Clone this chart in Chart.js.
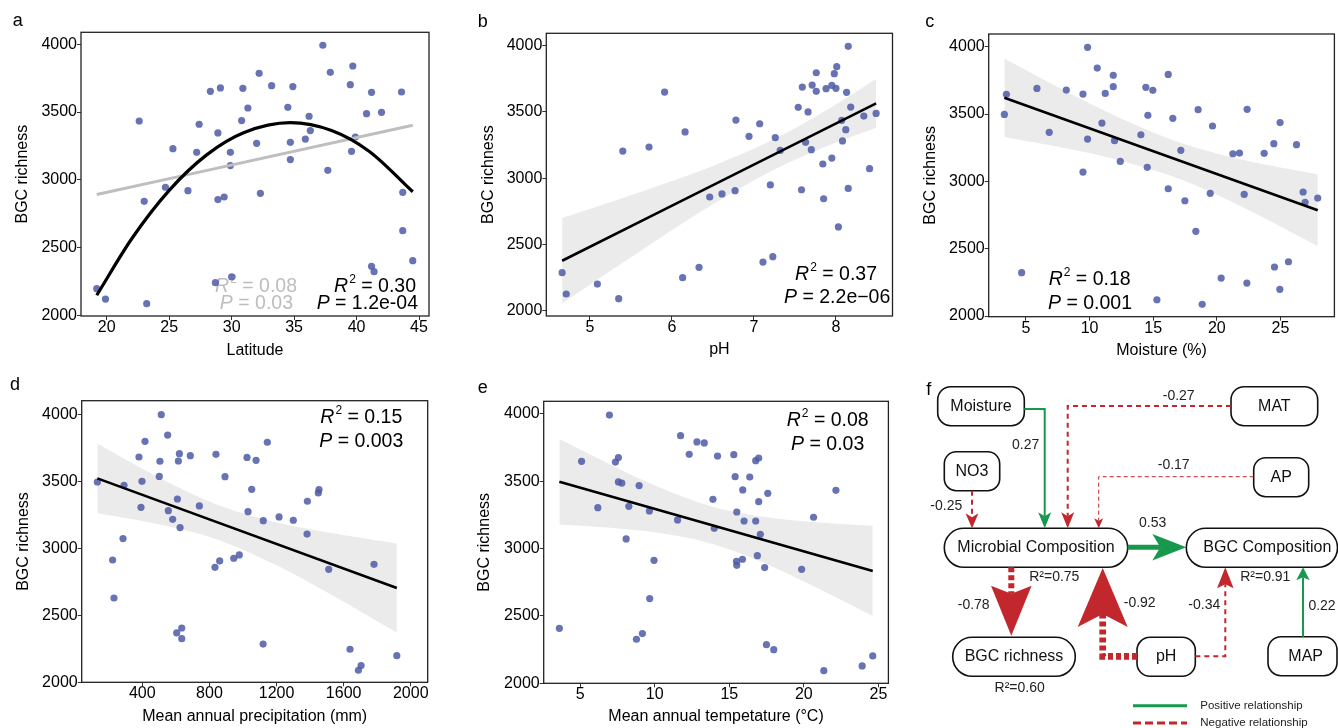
<!DOCTYPE html>
<html>
<head>
<meta charset="utf-8">
<script src="https://cdn.jsdelivr.net/npm/chart.js"></script>
<style>
  html, body { margin: 0; padding: 0; background: #fff; }
  body { width: 1338px; height: 728px; position: relative; overflow: hidden; }
  canvas { position: absolute; }
</style>
</head>
<body>
<canvas id="chartA"></canvas>
<canvas id="chartB"></canvas>
<canvas id="chartC"></canvas>
<canvas id="chartD"></canvas>
<canvas id="chartE"></canvas>
<canvas id="chartF"></canvas>
<script>
// ---------- data ----------
const richTicks = [2000, 2500, 3000, 3500, 4000];

// a: latitude
const latTicks = [20, 25, 30, 35, 40, 45];
const latitude = [19.2, 19.9, 22.6, 23.0, 23.2, 24.7, 25.3, 26.5, 27.2, 27.4, 28.3, 28.7, 28.9, 28.9, 29.1, 29.4, 29.9, 29.9, 30.0, 30.8, 30.9, 31.3, 32.0, 32.2, 32.3, 33.2, 34.5, 34.7, 34.7, 34.9, 35.9, 36.2, 36.3, 37.3, 37.7, 37.9, 39.5, 39.6, 39.7, 39.9, 40.8, 41.2, 41.2, 41.4, 42.0, 43.6, 43.7, 43.7, 44.5];
const richLat = [2197, 2120, 3434, 2841, 2086, 2945, 3230, 2920, 3203, 3410, 3653, 2241, 2854, 3346, 3678, 2873, 3203, 3105, 2283, 3437, 3675, 3530, 3269, 3786, 2900, 3695, 3535, 3277, 3149, 3688, 3301, 3469, 3363, 3993, 3070, 3793, 3702, 3210, 3840, 3316, 3488, 3646, 2362, 2322, 3498, 3648, 2625, 2908, 2403];
const latLinX = [19.2, 44.5];
const latLinY = [2891, 3402];
const latQuadX = [19.2, 22, 25, 28, 31, 34.7, 38, 41, 44.5];
const latQuadY = [2148, 2565, 2922, 3184, 3349, 3422, 3364, 3211, 2912];
const latR2 = ['0.08', '0.30'];
const latP = ['0.03', '1.2e-04'];

// b: pH
const phTicks = [5, 6, 7, 8];
const ph = [4.66, 4.71, 5.09, 5.35, 5.40, 5.72, 5.91, 6.13, 6.16, 6.33, 6.46, 6.61, 6.77, 6.78, 6.94, 7.07, 7.11, 7.20, 7.23, 7.26, 7.32, 7.54, 7.58, 7.59, 7.63, 7.66, 7.70, 7.71, 7.76, 7.76, 7.84, 7.85, 7.88, 7.95, 7.95, 7.98, 8.00, 8.01, 8.03, 8.07, 8.08, 8.12, 8.13, 8.15, 8.15, 8.18, 8.34, 8.41, 8.49];
const richPh = [2287, 2126, 2201, 2091, 3205, 3235, 3650, 2249, 3349, 2327, 2858, 2881, 2906, 3439, 3316, 3411, 2367, 2949, 2408, 3306, 3210, 3535, 2913, 3688, 3271, 3500, 3215, 3703, 3796, 3656, 3107, 2845, 3676, 3152, 3701, 3789, 3678, 3842, 2632, 3437, 3281, 3366, 3648, 3995, 2923, 3537, 3469, 3072, 3489];
const phFitX = [4.66, 8.49];
const phFitY = [2377, 3565];
const phBandX = [4.66, 5.2, 5.8, 6.5, 7.25, 7.9, 8.49];
const phBandUp = [2700, 2810, 2936, 3093, 3295, 3519, 3749];
const phBandLo = [2054, 2280, 2526, 2803, 3065, 3245, 3381];

// c: moisture
const moistTicks = [5, 10, 15, 20, 25];
const moisture = [3.30, 3.46, 4.66, 5.86, 6.83, 8.17, 9.48, 9.48, 9.84, 9.84, 10.60, 10.97, 11.23, 11.86, 11.86, 11.96, 12.41, 14.03, 14.42, 14.53, 14.58, 14.97, 15.29, 16.18, 16.18, 16.54, 17.17, 17.49, 18.35, 18.53, 18.85, 19.48, 19.66, 20.34, 21.26, 21.78, 22.15, 22.36, 22.38, 23.72, 24.48, 24.53, 24.95, 24.97, 25.63, 26.26, 26.78, 26.94, 27.93];
const richMoist = [3497, 3646, 2322, 3690, 3364, 3678, 3648, 3069, 3995, 3314, 3841, 3433, 3653, 3787, 3703, 3302, 3148, 3346, 3698, 3104, 3490, 3676, 2121, 3794, 2945, 3468, 3230, 2856, 2629, 3532, 2087, 2911, 3411, 2282, 3205, 3210, 2903, 2245, 3535, 3208, 3280, 2364, 2198, 3436, 2403, 3272, 2921, 2844, 2876];
const moistFitX = [3.3, 27.93];
const moistFitY = [3621, 2785];
const moistBandX = [3.3, 7, 11, 16.34, 20, 24, 27.93];
const moistBandUp = [3913, 3724, 3532, 3313, 3207, 3121, 3052];
const moistBandLo = [3329, 3266, 3188, 3043, 2901, 2715, 2518];

// d: mean annual precipitation
const precipTicks = [400, 800, 1200, 1600, 2000];
const precip = [132, 223, 231, 285, 291, 380, 392, 398, 416, 501, 505, 513, 551, 555, 581, 605, 609, 615, 621, 625, 635, 635, 686, 740, 833, 839, 861, 893, 945, 978, 1024, 1030, 1052, 1078, 1120, 1121, 1145, 1215, 1300, 1382, 1384, 1449, 1453, 1511, 1638, 1688, 1704, 1781, 1917];
const richPrecip = [3497, 2914, 2630, 3074, 3472, 3684, 3308, 3502, 3801, 3539, 3652, 4000, 3848, 3283, 3218, 2369, 3370, 3654, 3709, 3156, 2406, 2326, 3694, 3318, 2859, 3704, 2907, 3537, 2927, 2952, 3681, 3275, 3442, 3659, 2286, 3208, 3794, 3236, 3211, 3108, 3353, 3415, 3440, 2844, 2247, 2090, 2125, 2882, 2199];
const precipFitX = [132, 1917];
const precipFitY = [3524, 2705];
const precipBandX = [132, 400, 700, 900, 1200, 1500, 1917];
const precipBandUp = [3784, 3596, 3405, 3302, 3194, 3121, 3038];
const precipBandLo = [3264, 3206, 3123, 3042, 2874, 2673, 2372];

// e: mean annual temperature
const tempTicks = [5, 10, 15, 20, 25];
const temp = [3.60, 5.09, 6.18, 6.96, 7.36, 7.56, 7.56, 7.79, 8.08, 8.26, 8.77, 8.95, 9.17, 9.64, 9.66, 9.95, 11.53, 11.73, 12.31, 12.83, 13.32, 13.90, 13.99, 14.21, 15.30, 15.39, 15.48, 15.50, 15.50, 15.88, 15.90, 15.99, 16.37, 16.77, 16.77, 16.88, 16.97, 16.97, 17.08, 17.37, 17.49, 17.58, 17.98, 19.85, 20.65, 21.34, 22.15, 23.91, 24.62];
const richTemp = [2408, 3648, 3304, 3992, 3643, 3676, 3495, 3487, 3072, 3314, 2327, 3468, 2369, 3280, 2629, 2913, 3213, 3839, 3700, 3792, 3785, 3366, 3151, 3688, 3698, 3534, 2906, 3272, 2876, 2921, 3436, 3205, 3532, 3653, 3205, 2948, 3673, 3349, 3106, 2859, 2287, 3411, 2250, 2846, 3233, 2094, 3433, 2129, 2203];
const tempFitX = [3.6, 24.62];
const tempFitY = [3497, 2834];
const tempBandX = [3.6, 7, 10, 13.76, 17, 21, 24.62];
const tempBandUp = [3814, 3625, 3469, 3315, 3240, 3194, 3169];
const tempBandLo = [3180, 3155, 3121, 3039, 2910, 2702, 2499];

// f: structural equation model
const semFrom = ['Moisture', 'MAT', 'NO3', 'AP', 'Microbial Composition', 'Microbial Composition', 'pH', 'pH', 'MAP'];
const semTo = ['Microbial Composition', 'Microbial Composition', 'Microbial Composition', 'Microbial Composition', 'BGC Composition', 'BGC richness', 'Microbial Composition', 'BGC Composition', 'BGC Composition'];
const semCoef = [0.27, -0.27, -0.25, -0.17, 0.53, -0.78, -0.92, -0.34, 0.22];
const semR2Node = ['Microbial Composition', 'BGC Composition', 'BGC richness'];
const semR2 = ['0.75', '0.91', '0.60'];
const semLegend = ['Positive relationship', 'Negative relationship'];

// ---------- drawing ----------
const FONT = '"Liberation Sans", Arial, Helvetica, sans-serif';
const DOT = 'rgba(77, 90, 167, 0.85)';
const BAND = '#ebebeb';
const GREEN = '#17984c';
const RED = '#c1272d';
const STAT_PX = 19.5;

Chart.defaults.font.family = FONT;
Chart.defaults.color = '#000';

function xy(xs, ys) {
    return xs.map((x, i) => ({ x: x, y: ys[i] }));
}

const frame = {
    id: 'frame',
    afterDatasetsDraw(chart) {
        const a = chart.chartArea;
        const ctx = chart.ctx;
        ctx.save();
        ctx.strokeStyle = '#222';
        ctx.lineWidth = 1.3;
        ctx.strokeRect(a.left, a.top, a.right - a.left, a.bottom - a.top);
        ctx.restore();
    }
};

function drawStat(ctx, s) {
    ctx.save();
    ctx.fillStyle = s.color || '#000';
    ctx.textBaseline = 'alphabetic';
    ctx.textAlign = 'left';
    const big = STAT_PX + 'px ' + FONT;
    const small = '12px ' + FONT;
    const rest = ' = ' + s.val;
    ctx.font = 'italic ' + big;
    const w1 = ctx.measureText(s.sym).width;
    ctx.font = small;
    const w2 = s.sup ? ctx.measureText(s.sup).width + 1 : 0;
    ctx.font = big;
    const w3 = ctx.measureText(rest).width;
    let x = s.align === 'right' ? s.x - (w1 + w2 + w3) : s.x;
    ctx.font = 'italic ' + big;
    ctx.fillText(s.sym, x, s.y);
    x += w1;
    if (s.sup) {
        ctx.font = small;
        ctx.fillText(s.sup, x + 1, s.y - 9);
        x += w2;
    }
    ctx.font = big;
    ctx.fillText(rest, x, s.y);
    ctx.restore();
}

function makeNotes(letter, pos, stats) {
    return {
        id: 'notes',
        beforeDatasetsDraw(chart) {
            stats.forEach(s => drawStat(chart.ctx, s));
        },
        afterDraw(chart) {
            const ctx = chart.ctx;
            ctx.save();
            ctx.font = '18px ' + FONT;
            ctx.fillStyle = '#000';
            ctx.textBaseline = 'alphabetic';
            ctx.textAlign = 'left';
            ctx.fillText(letter, pos[0], pos[1]);
            ctx.restore();
        }
    };
}

function axis(ticks, min, max, title, fitSize, titlePad, horizontal) {
    return {
        type: 'linear',
        position: horizontal ? 'bottom' : 'left',
        min: min,
        max: max,
        afterBuildTicks: s => { s.ticks = ticks.map(v => ({ value: v })); },
        afterFit: s => { if (horizontal) s.height = fitSize; else s.width = fitSize; },
        grid: { drawOnChartArea: false, tickLength: 4, color: '#333', lineWidth: 1 },
        border: { display: false },
        ticks: {
            font: { size: 16 }, color: '#000', padding: horizontal ? -2 : 0,
            maxRotation: 0, autoSkip: false, callback: v => String(v)
        },
        title: {
            display: true, text: title, font: { size: 16 }, color: '#000',
            padding: horizontal ? { top: 0, bottom: titlePad } : { top: titlePad, bottom: 0 }
        }
    };
}

function scatterPanel(p) {
    const cv = document.getElementById(p.id);
    cv.width = p.w;
    cv.height = p.h;
    cv.style.left = p.left + 'px';
    cv.style.top = p.top + 'px';

    const ds = [];
    if (p.band) {
        ds.push({ type: 'line', data: xy(p.band[0], p.band[1]), fill: '+1', backgroundColor: BAND,
            borderColor: 'rgba(0,0,0,0)', borderWidth: 0, pointRadius: 0, cubicInterpolationMode: 'monotone', order: 5 });
        ds.push({ type: 'line', data: xy(p.band[0], p.band[2]), fill: false,
            borderColor: 'rgba(0,0,0,0)', borderWidth: 0, pointRadius: 0, cubicInterpolationMode: 'monotone', order: 5 });
    }
    ds.push({ type: 'scatter', data: xy(p.x, p.y), backgroundColor: DOT, borderWidth: 0,
        pointRadius: 3.6, pointHoverRadius: 3.6, order: 4 });
    p.fits.forEach((f, i) => {
        ds.push({ type: 'line', data: xy(f.x, f.y), borderColor: f.color, borderWidth: f.width, fill: false,
            pointRadius: 0, cubicInterpolationMode: 'monotone', borderCapStyle: 'butt', order: i });
    });

    return new Chart(cv, {
        type: 'scatter',
        data: { datasets: ds },
        options: {
            responsive: false,
            animation: false,
            devicePixelRatio: 1,
            events: [],
            layout: { padding: { top: p.padT, right: p.padR, left: 0, bottom: 0 } },
            plugins: { legend: { display: false }, tooltip: { enabled: false } },
            scales: {
                x: axis(p.xTicks, p.xMin, p.xMax, p.xTitle, p.xH, p.xTitlePad, true),
                y: axis(richTicks, p.yMin, p.yMax, 'BGC richness', p.yW, p.yTitlePad, false)
            }
        },
        plugins: [frame, makeNotes(p.letter, p.letterPos, p.stats)]
    });
}

function stat(sym, val, x, y, align, color) {
    return { sym: sym, sup: sym === 'R' ? '2' : '', val: val, x: x, y: y, align: align, color: color };
}

scatterPanel({
    id: 'chartA', left: 0, top: 0, w: 446, h: 364,
    padT: 32.3, padR: 17, yW: 81, xH: 48, xTitlePad: 3.4, yTitlePad: 13.4,
    xMin: 17.94, xMax: 45.8, yMin: 1995, yMax: 4088.6,
    xTicks: latTicks, xTitle: 'Latitude', x: latitude, y: richLat,
    fits: [
        { x: latQuadX, y: latQuadY, color: '#000', width: 3.2 },
        { x: latLinX, y: latLinY, color: '#bebebe', width: 3 }
    ],
    letter: 'a', letterPos: [12.7, 25.7],
    stats: [
        stat('R', latR2[0], 297, 292, 'right', '#bdbdbd'),
        stat('P', latP[0], 293, 309, 'right', '#bdbdbd'),
        stat('R', latR2[1], 416, 292, 'right', '#000'),
        stat('P', latP[1], 418, 309, 'right', '#000')
    ]
});

scatterPanel({
    id: 'chartB', left: 446, top: 0, w: 454, h: 364,
    padT: 33.3, padR: 7.5, yW: 100.3, xH: 48, xTitlePad: 4.4, yTitlePad: 33.4,
    xMin: 4.467, xMax: 8.69, yMin: 1960, yMax: 4093.6,
    xTicks: phTicks, xTitle: 'pH', x: ph, y: richPh,
    band: [phBandX, phBandUp, phBandLo],
    fits: [{ x: phFitX, y: phFitY, color: '#000', width: 2.6 }],
    letter: 'b', letterPos: [31.7, 26.7],
    stats: [
        stat('R', '0.37', 431, 280, 'right', '#000'),
        stat('P', '2.2e\u221206', 444.3, 303.3, 'right', '#000')
    ]
});

scatterPanel({
    id: 'chartC', left: 892, top: 0, w: 446, h: 364,
    padT: 34, padR: 3.3, yW: 96.7, xH: 47.3, xTitlePad: 3.4, yTitlePad: 29.4,
    xMin: 2.07, xMax: 29.24, yMin: 1995, yMax: 4094,
    xTicks: moistTicks, xTitle: 'Moisture (%)', x: moisture, y: richMoist,
    band: [moistBandX, moistBandUp, moistBandLo],
    fits: [{ x: moistFitX, y: moistFitY, color: '#000', width: 2.6 }],
    letter: 'c', letterPos: [33.3, 26.7],
    stats: [
        stat('R', '0.18', 156.7, 285, 'left', '#000'),
        stat('P', '0.001', 156, 309.3, 'left', '#000')
    ]
});

scatterPanel({
    id: 'chartD', left: 0, top: 364, w: 446, h: 364,
    padT: 36.7, padR: 18.3, yW: 81.7, xH: 45.7, xTitlePad: 1.7, yTitlePad: 14.4,
    xMin: 38.7, xMax: 2101, yMin: 2000, yMax: 4104.6,
    xTicks: precipTicks, xTitle: 'Mean annual precipitation (mm)', x: precip, y: richPrecip,
    band: [precipBandX, precipBandUp, precipBandLo],
    fits: [{ x: precipFitX, y: precipFitY, color: '#000', width: 2.6 }],
    letter: 'd', letterPos: [10, 26],
    stats: [
        stat('R', '0.15', 402.3, 59.3, 'right', '#000'),
        stat('P', '0.003', 403.3, 82.7, 'right', '#000')
    ]
});

scatterPanel({
    id: 'chartE', left: 446, top: 364, w: 446, h: 364,
    padT: 37.3, padR: 2.7, yW: 97.7, xH: 44.7, xTitlePad: 1.4, yTitlePad: 29.4,
    xMin: 2.55, xMax: 25.67, yMin: 2000, yMax: 4094,
    xTicks: tempTicks, xTitle: 'Mean annual tempetature (\u00b0C)', x: temp, y: richTemp,
    band: [tempBandX, tempBandUp, tempBandLo],
    fits: [{ x: tempFitX, y: tempFitY, color: '#000', width: 2.6 }],
    letter: 'e', letterPos: [31.7, 29.3],
    stats: [
        stat('R', '0.08', 422.7, 62.3, 'right', '#000'),
        stat('P', '0.03', 418.3, 86, 'right', '#000')
    ]
});

// ---------- panel f layout ----------
const semBoxes = {
    'Moisture': { box: [45.7, 22.7, 132.3, 61.7], r: 13 },
    'MAT': { box: [339, 22.7, 425.7, 61.7], r: 13 },
    'NO3': { box: [52.3, 87.7, 107.7, 126.7], r: 12 },
    'AP': { box: [361.7, 93.7, 416.7, 132.7], r: 12 },
    'Microbial Composition': { box: [52.3, 164.3, 235.7, 203.3], r: 19.5 },
    'BGC Composition': { box: [294.3, 164.3, 445.5, 203.3], r: 19.5, tx: 375.3 },
    'BGC richness': { box: [60.7, 273.3, 183.3, 312.3], r: 19.5 },
    'pH': { box: [245, 273.3, 303.3, 312.3], r: 13 },
    'MAP': { box: [376, 272.7, 445, 311.7], r: 13, tx: 413.7 }
};
const semR2Pos = [[162.3, 212.7], [373.3, 212.7], [127.7, 323.7]];
// routes follow the order of semFrom / semTo; head = [length, half width, notch]
const semRoutes = [
    { pts: [[132.3, 45], [152.7, 45], [152.7, 164.3]], w: 2, head: [16, 6.5, 4], lab: [133.7, 80.7] },
    { pts: [[339, 42], [175.7, 42], [175.7, 164.3]], w: 2, head: [16, 6.5, 4], lab: [286.7, 32], dash: [5, 4] },
    { pts: [[80, 126.7], [80, 164.3]], w: 2, head: [15, 6.5, 4], lab: [54.3, 141.7], dash: [5, 4] },
    { pts: [[361.7, 112.7], [206.7, 112.7], [206.7, 164.3]], w: 1, head: [10, 4.5, 2.5], lab: [281.7, 100.7], dash: [4, 3] },
    { pts: [[235.7, 183.3], [294.3, 183.3]], w: 5, head: [34, 13.3, 8], lab: [260.7, 159] },
    { pts: [[119.3, 203.3], [119.3, 271.7]], w: 6, head: [50, 20.3, 8], lab: [81.7, 240.7], dash: [5, 3] },
    { pts: [[245, 292.3], [210.7, 292.3], [210.7, 204]], w: 6.7, head: [59, 25, 13], lab: [247.7, 239], dash: [5, 3] },
    { pts: [[303.3, 292.3], [333.3, 292.3], [333.3, 203.3]], w: 2, head: [21, 8.3, 4], lab: [312.3, 240.7], dash: [5, 4] },
    { pts: [[411, 272.7], [411, 203.3]], w: 2, head: [13, 6.7, 3], lab: [430, 242.3] }
];

function roundBox(ctx, x1, y1, x2, y2, r) {
    ctx.beginPath();
    ctx.moveTo(x1 + r, y1);
    ctx.lineTo(x2 - r, y1);
    ctx.arcTo(x2, y1, x2, y1 + r, r);
    ctx.lineTo(x2, y2 - r);
    ctx.arcTo(x2, y2, x2 - r, y2, r);
    ctx.lineTo(x1 + r, y2);
    ctx.arcTo(x1, y2, x1, y2 - r, r);
    ctx.lineTo(x1, y1 + r);
    ctx.arcTo(x1, y1, x1 + r, y1, r);
    ctx.closePath();
}

function drawRoute(ctx, X, Y, route, color) {
    const pts = route.pts.map(p => [X(p[0]), Y(p[1])]);
    const len = route.head[0], half = route.head[1], notch = route.head[2];
    const tip = pts[pts.length - 1];
    const prev = pts[pts.length - 2];
    const d = Math.hypot(tip[0] - prev[0], tip[1] - prev[1]);
    const ux = (tip[0] - prev[0]) / d, uy = (tip[1] - prev[1]) / d;
    const endX = tip[0] - ux * (len - notch), endY = tip[1] - uy * (len - notch);

    ctx.save();
    ctx.strokeStyle = color;
    ctx.fillStyle = color;
    ctx.lineWidth = route.w;
    ctx.lineCap = 'butt';
    ctx.lineJoin = 'miter';
    ctx.setLineDash(route.dash || []);
    ctx.beginPath();
    ctx.moveTo(pts[0][0], pts[0][1]);
    for (let i = 1; i < pts.length - 1; i++) ctx.lineTo(pts[i][0], pts[i][1]);
    ctx.lineTo(endX, endY);
    ctx.stroke();

    const bx = tip[0] - ux * len, by = tip[1] - uy * len;
    ctx.setLineDash([]);
    ctx.beginPath();
    ctx.moveTo(tip[0], tip[1]);
    ctx.lineTo(bx - uy * half, by + ux * half);
    ctx.lineTo(endX, endY);
    ctx.lineTo(bx + uy * half, by - ux * half);
    ctx.closePath();
    ctx.fill();
    ctx.restore();
}

const semDraw = {
    id: 'semDraw',
    afterDraw(chart) {
        const ctx = chart.ctx;
        const X = v => chart.scales.x.getPixelForValue(v);
        const Y = v => chart.scales.y.getPixelForValue(v);

        // nodes
        Object.keys(semBoxes).forEach(name => {
            const n = semBoxes[name];
            const b = n.box;
            ctx.save();
            roundBox(ctx, X(b[0]), Y(b[1]), X(b[2]), Y(b[3]), n.r);
            ctx.fillStyle = '#fff';
            ctx.fill();
            ctx.lineWidth = 1.6;
            ctx.strokeStyle = '#111';
            ctx.stroke();
            ctx.font = '16px ' + FONT;
            ctx.fillStyle = '#111';
            ctx.textAlign = 'center';
            ctx.textBaseline = 'middle';
            ctx.fillText(name, X(n.tx || (b[0] + b[2]) / 2), Y((b[1] + b[3]) / 2));
            ctx.restore();
        });

        // paths
        semCoef.forEach((c, i) => {
            const route = semRoutes[i];
            drawRoute(ctx, X, Y, route, c > 0 ? GREEN : RED);
            ctx.save();
            ctx.font = '14px ' + FONT;
            ctx.fillStyle = '#222';
            ctx.textAlign = 'center';
            ctx.textBaseline = 'middle';
            ctx.fillText(c.toFixed(2), X(route.lab[0]), Y(route.lab[1]));
            ctx.restore();
        });

        // explained variance
        ctx.save();
        ctx.font = '14px ' + FONT;
        ctx.fillStyle = '#222';
        ctx.textAlign = 'center';
        ctx.textBaseline = 'middle';
        semR2Node.forEach((n, i) => {
            ctx.fillText('R\u00b2=' + semR2[i], X(semR2Pos[i][0]), Y(semR2Pos[i][1]));
        });
        ctx.restore();

        // legend
        ctx.save();
        ctx.lineWidth = 3;
        ctx.strokeStyle = GREEN;
        ctx.beginPath();
        ctx.moveTo(X(241), Y(341.7));
        ctx.lineTo(X(295), Y(341.7));
        ctx.stroke();
        ctx.strokeStyle = RED;
        ctx.setLineDash([8, 4]);
        ctx.beginPath();
        ctx.moveTo(X(241), Y(359));
        ctx.lineTo(X(295), Y(359));
        ctx.stroke();
        ctx.setLineDash([]);
        ctx.font = '11.5px ' + FONT;
        ctx.fillStyle = '#222';
        ctx.textAlign = 'left';
        ctx.textBaseline = 'middle';
        ctx.fillText(semLegend[0], X(308.3), Y(341.7));
        ctx.fillText(semLegend[1], X(308.3), Y(359));
        ctx.restore();
    }
};

function semPanel() {
    const cv = document.getElementById('chartF');
    cv.width = 446;
    cv.height = 364;
    cv.style.left = '892px';
    cv.style.top = '364px';
    return new Chart(cv, {
        type: 'scatter',
        data: { datasets: [] },
        options: {
            responsive: false,
            animation: false,
            devicePixelRatio: 1,
            events: [],
            layout: { padding: 0 },
            plugins: { legend: { display: false }, tooltip: { enabled: false } },
            scales: {
                x: { type: 'linear', display: false, min: 0, max: 446 },
                y: { type: 'linear', display: false, min: 0, max: 364, reverse: true }
            }
        },
        plugins: [semDraw, makeNotes('f', [34.3, 30.7], [])]
    });
}

semPanel();
</script>
</body>
</html>
